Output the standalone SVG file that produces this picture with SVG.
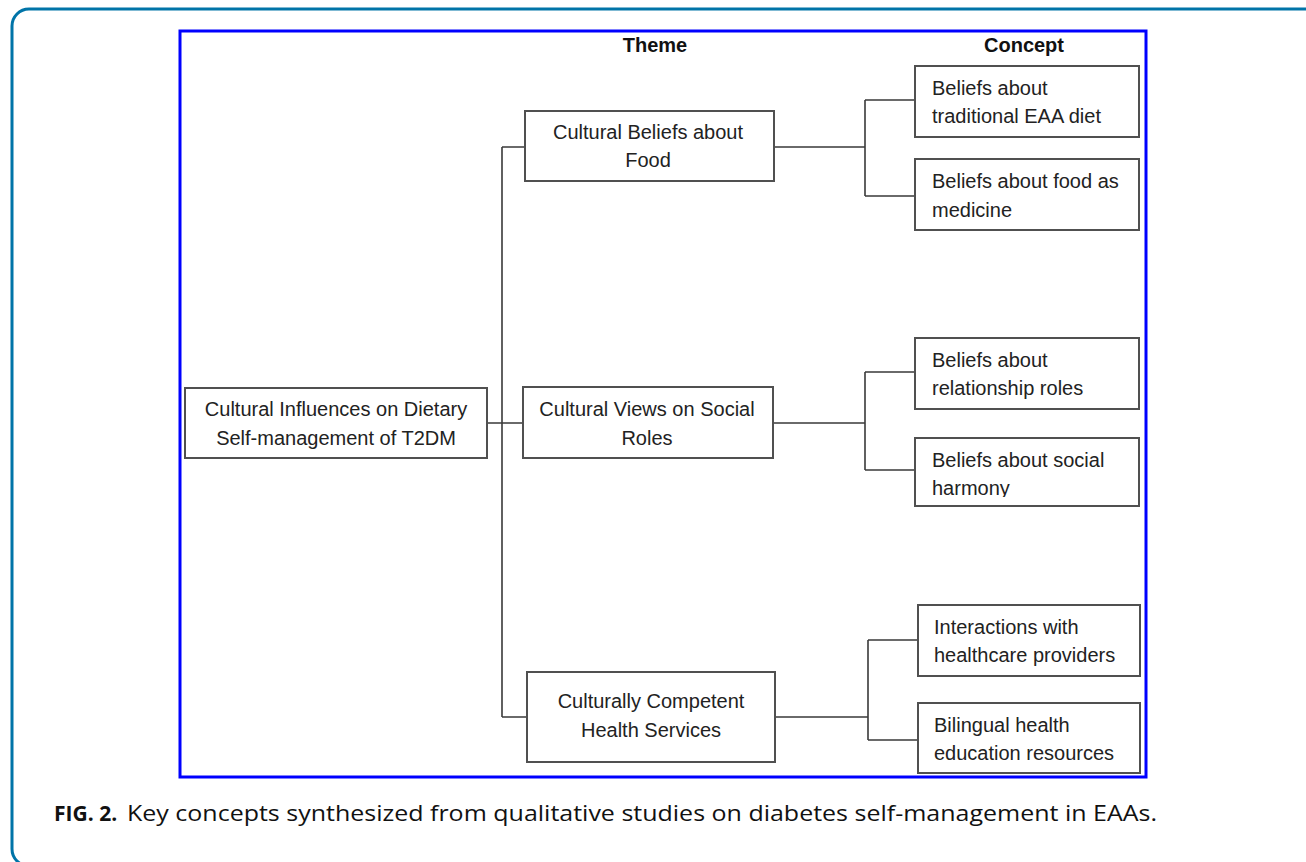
<svg xmlns="http://www.w3.org/2000/svg" width="1306" height="862" viewBox="0 0 1306 862">
<style>
.box{fill:#fff;stroke:#505050;stroke-width:2}
.t{font-family:"Liberation Sans",Arial,sans-serif;font-size:20px;fill:#222}
.c{text-anchor:middle}
.h{font-family:"Liberation Sans",Arial,sans-serif;font-size:20px;font-weight:bold;fill:#111;text-anchor:middle}
.ln{fill:none;stroke:#3a3a3a;stroke-width:1.6}
.cap{font-family:"Open Sans","Liberation Sans",sans-serif;font-size:21px;fill:#111}
</style>
<defs>
<clipPath id="clipH"><rect x="916" y="438" width="222" height="59"/></clipPath>
</defs>
<rect x="0" y="0" width="1306" height="862" fill="#fff"/>
<rect x="12" y="9" width="1320" height="857" rx="17" fill="none" stroke="#0074a8" stroke-width="3"/>
<rect x="180" y="31" width="966" height="746" fill="none" stroke="#0000ff" stroke-width="3"/>
<text class="h" x="655" y="52">Theme</text>
<text class="h" x="1024" y="52">Concept</text>
<g id="connectors">
<path class="ln" d="M487 423H502M502 147V717M502 147H525M502 423H523M502 717H527"/>
<path class="ln" d="M774 147H865M865 100V196M865 100H915M865 196H915"/>
<path class="ln" d="M773 423H865M865 372V470M865 372H915M865 470H915"/>
<path class="ln" d="M775 717H868M868 640V740M868 640H918M868 740H918"/>
</g>
<g id="root">
<rect class="box" x="185" y="388" width="302" height="70"/>
<text class="t c" x="336" y="416">Cultural Influences on Dietary</text>
<text class="t c" x="336" y="445">Self-management of T2DM</text>
</g>
<g id="theme-food">
<rect class="box" x="525" y="111" width="249" height="70"/>
<text class="t c" x="648" y="139">Cultural Beliefs about</text>
<text class="t c" x="648" y="167">Food</text>
</g>
<g id="theme-social">
<rect class="box" x="523" y="387" width="250" height="71"/>
<text class="t c" x="647" y="416">Cultural Views on Social</text>
<text class="t c" x="647" y="445">Roles</text>
</g>
<g id="theme-health">
<rect class="box" x="527" y="672" width="248" height="90"/>
<text class="t c" x="651" y="708">Culturally Competent</text>
<text class="t c" x="651" y="737">Health Services</text>
</g>
<g id="concept-diet">
<rect class="box" x="915" y="66" width="224" height="71"/>
<text class="t" x="932" y="95">Beliefs about</text>
<text class="t" x="932" y="123">traditional EAA diet</text>
</g>
<g id="concept-medicine">
<rect class="box" x="915" y="159" width="224" height="71"/>
<text class="t" x="932" y="188">Beliefs about food as</text>
<text class="t" x="932" y="217">medicine</text>
</g>
<g id="concept-relationship">
<rect class="box" x="915" y="338" width="224" height="71"/>
<text class="t" x="932" y="367">Beliefs about</text>
<text class="t" x="932" y="395">relationship roles</text>
</g>
<g id="concept-harmony">
<rect class="box" x="915" y="438" width="224" height="68"/>
<text class="t" x="932" y="467">Beliefs about social</text>
<text class="t" x="932" y="495" clip-path="url(#clipH)">harmony</text>
</g>
<g id="concept-providers">
<rect class="box" x="918" y="605" width="222" height="71"/>
<text class="t" x="934" y="634">Interactions with</text>
<text class="t" x="934" y="662">healthcare providers</text>
</g>
<g id="concept-bilingual">
<rect class="box" x="918" y="703" width="222" height="70"/>
<text class="t" x="934" y="732">Bilingual health</text>
<text class="t" x="934" y="760">education resources</text>
</g>
<text class="cap" x="54" y="821"><tspan font-weight="bold">FIG. 2.</tspan></text>
<text class="cap" x="127" y="821" textLength="1030" lengthAdjust="spacingAndGlyphs">Key concepts synthesized from qualitative studies on diabetes self-management in EAAs.</text>
</svg>
